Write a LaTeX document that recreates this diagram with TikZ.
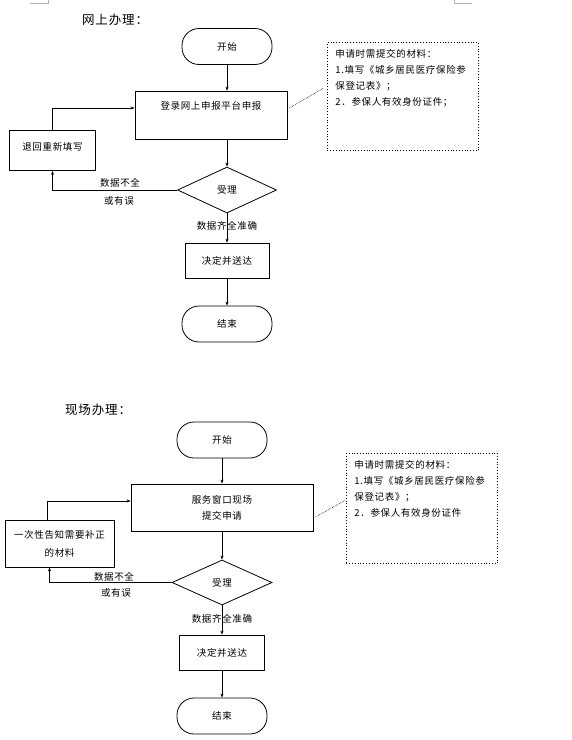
\documentclass[tikz,border=0pt]{standalone}
\usepackage{fontspec}
\newfontfamily\cjk[LetterSpace=7]{Noto Sans CJK SC}
\usetikzlibrary{arrows.meta,positioning,shapes.geometric}

\begin{document}
\begin{tikzpicture}[x=1pt,y=-1pt,
    font=\cjk\fontsize{9.5}{16}\selectfont,
    line width=0.8pt,
    term/.style={draw,rounded corners=17pt,minimum width=90pt,
                 minimum height=36pt,inner sep=0pt},
    proc/.style={draw,inner sep=2pt,align=center},
    decide/.style={draw,diamond,minimum width=99pt,minimum height=46pt,
                   inner sep=0pt},
    note/.style={draw,dotted,anchor=north west,inner xsep=8pt,inner ysep=7pt},
    arr/.style={-{Stealth[length=4pt,width=3pt]}},
    link/.style={densely dotted,line width=0.6pt},
    heading/.style={font=\cjk\fontsize{12.5}{16}\selectfont}]
  \useasboundingbox (0,0) rectangle (572,740);
  \draw[gray!60,line width=0.5pt] (30,3.5) -- (48,3.5) -- (48,0);
  \draw[gray!60,line width=0.5pt] (454,0) -- (454,3.5) -- (472,3.5);

  % online
  \node[heading] (title1) at (115,20) {网上办理：};
  \node[term] (start1) at (227,46.5) {开始};
  \node[proc,minimum width=152pt,minimum height=48pt] (login) at (211,115)
    {登录网上申报平台申报\\[4pt]~};
  \node[proc,minimum width=86pt,minimum height=40pt] (back1) at (52.5,150.5)
    {退回重新填写\\[-8pt]~};
  \node[decide] (check1) at (227,190) {受理};
  \node[proc,minimum width=84pt,minimum height=35pt] (done1) at (227,260.5)
    {决定并送达};
  \node[term] (end1) at (227,324) {结束};
  \node[note] (note1) at (327,42) {\parbox[t][94pt][t]{135pt}{%
    申请时需提交的材料：\\
    1.填写《城乡居民医疗保险参\\
    保登记表》；\\
    2．参保人有效身份证件；}};

  \draw[arr] (start1) -- (start1 |- login.north);
  \draw[arr] (start1 |- login.south) -- (check1);
  \draw[arr] (check1) -- (done1);
  \draw[arr] (done1) -- (end1);
  \draw[arr] (back1.north) |- ([yshift=7pt]login.west);
  \draw[arr] (check1.west) -| (back1.south);
  \draw[link] ([shift={(2pt,7pt)}]login.east) -- ([shift={(-4pt,8pt)}]note1.west);
  \node at (120,183) {数据不全};
  \node at (119,201) {或有误};
  \node at (227,226) {数据齐全准确};

  % on site
  \node[heading] (title2) at (98,410) {现场办理：};
  \node[term] (start2) at (222,440) {开始};
  \node[proc,minimum width=182pt,minimum height=47pt] (counter) at (222,507.5)
    {服务窗口现场\\提交申请};
  \node[proc,minimum width=109pt,minimum height=47pt] (back2) at (59.5,543.5)
    {一次性告知需要补正\\[2pt]的材料};
  \node[decide,minimum width=100pt,minimum height=45pt] (check2) at (222,582.5) {受理};
  \node[proc,minimum width=85pt,minimum height=35pt] (done2) at (222,652.5)
    {决定并送达};
  \node[term] (end2) at (222,716) {结束};
  \node[note] (note2) at (346,453) {\parbox[t][96pt][t]{135pt}{%
    申请时需提交的材料：\\
    1.填写《城乡居民医疗保险参\\
    保登记表》；\\
    2．参保人有效身份证件}};

  \draw[arr] (start2) -- (counter);
  \draw[arr] (counter) -- (check2);
  \draw[arr] (check2) -- (done2);
  \draw[arr] (done2) -- (end2);
  \draw[arr] ([xshift=-12pt]back2.north) |- ([yshift=6.5pt]counter.west);
  \draw[arr] (check2.west) -| ([xshift=-10pt]back2.south);
  \draw[link] ([shift={(2pt,-9.5pt)}]counter.east) -- ([shift={(-1pt,8pt)}]note2.west);
  \node at (114,577) {数据不全};
  \node at (116,593) {或有误};
  \node at (222,619) {数据齐全准确};
\end{tikzpicture}
\end{document}
